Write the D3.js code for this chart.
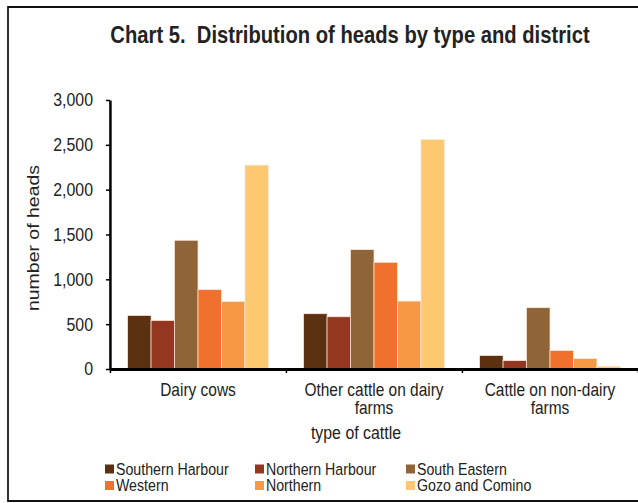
<!DOCTYPE html>
<html>
<head>
<meta charset="utf-8">
<script src="https://cdn.jsdelivr.net/npm/d3@7"></script>
<style>
  body { margin: 0; background: #fff; }
  text { font-family: "Liberation Sans", Arial, sans-serif; fill: #222; }
</style>
</head>
<body>
<svg id="chart"></svg>
<script>
const categories = ["Dairy cows", "Other cattle on dairy farms", "Cattle on non-dairy farms"]
const categoryLines = [["Dairy cows"], ["Other cattle on dairy", "farms"], ["Cattle on non-dairy", "farms"]]
const districts = ["Southern Harbour", "Northern Harbour", "South Eastern", "Western", "Northern", "Gozo and Comino"]
const colours = ["#5c3112", "#943720", "#8e6438", "#f0702d", "#f79845", "#fdc870"]

// heads per district, one array per category
const dairyCows = [598, 542, 1436, 885, 754, 2274]
const otherCattle = [617, 583, 1332, 1190, 758, 2561]
const nonDairy = [151, 95, 684, 207, 117, 31]
const yTicks = [0, 500, 1000, 1500, 2000, 2500, 3000]

const values = [dairyCows, otherCattle, nonDairy]

const width = 638, height = 503
const k = 0.86   // the picture is squeezed sideways
const X = v => v / k

const svg = d3.select("#chart")
    .attr("width", width)
    .attr("height", height)

const g = svg.append("g").attr("transform", `scale(${k},1)`)

// frame
g.append("rect")
    .attr("x", X(8)).attr("y", 7)
    .attr("width", X(660)).attr("height", 494)
    .attr("fill", "none")
    .attr("stroke", "#111")
    .attr("stroke-width", 2)

const x0 = d3.scaleBand()
    .domain(categories)
    .range([X(110), X(638)])
    .paddingInner(0)
    .paddingOuter(0)

const x1 = d3.scaleBand()
    .domain(districts)
    .range([0, x0.bandwidth()])
    .paddingOuter(0.75)
    .paddingInner(0)

const y = d3.scaleLinear()
    .domain([0, 3000])
    .range([369, 100])

const color = d3.scaleOrdinal().domain(districts).range(colours)

// bars
const groups = g.selectAll("g.cat")
    .data(categories)
    .enter()
    .append("g")
    .attr("class", "cat")
    .attr("transform", d => `translate(${x0(d)},0)`)

groups.selectAll("rect")
    .data((d, i) => values[i].map((v, j) => ({ district: districts[j], value: v })))
    .enter()
    .append("rect")
    .attr("x", d => x1(d.district))
    .attr("width", x1.bandwidth())
    .attr("y", d => y(d.value))
    .attr("height", d => y(0) - y(d.value))
    .attr("fill", d => color(d.district))
    .attr("stroke", "#fbe9dc")
    .attr("stroke-width", 0.8)

// y axis
const yAxis = g.append("g")
    .attr("transform", `translate(${X(110)},0)`)
    .call(d3.axisLeft(y).tickValues(yTicks).tickFormat(d3.format(",")).tickSize(X(4)).tickSizeOuter(0).tickPadding(X(13)))
yAxis.select(".domain").attr("stroke", "#000").attr("stroke-width", X(2.5))
yAxis.selectAll(".tick line").attr("stroke", "#000").attr("stroke-width", 1.5)
yAxis.selectAll(".tick text")
    .attr("font-size", 18.5)
    .attr("font-family", "Liberation Sans, Arial, sans-serif")
    .attr("fill", "#222")

// x axis
const bounds = categories.map(c => x0(c)).concat([x0.range()[1]])
const xAxis = g.append("g")
    .attr("transform", `translate(0,${y(0)})`)
    .call(d3.axisBottom(d3.scaleLinear().domain(x0.range()).range(x0.range()))
        .tickValues(bounds).tickSize(4).tickSizeOuter(0).tickFormat(""))
xAxis.select(".domain").attr("stroke", "#000").attr("stroke-width", 3)
xAxis.selectAll(".tick line").attr("stroke", "#000").attr("stroke-width", X(1.5))

// category labels
categories.forEach((c, i) => {
    const t = g.append("text")
        .attr("x", x0(c) + x0.bandwidth() / 2)
        .attr("y", 396)
        .attr("text-anchor", "middle")
        .attr("font-size", 18)
    categoryLines[i].forEach((line, j) => {
        t.append("tspan")
            .attr("x", x0(c) + x0.bandwidth() / 2)
            .attr("dy", j === 0 ? 0 : 18.5)
            .text(line)
    })
})

// axis titles
g.append("text")
    .attr("x", X(356)).attr("y", 439)
    .attr("text-anchor", "middle")
    .attr("font-size", 18.5)
    .text("type of cattle")

g.append("text")
    .attr("transform", `translate(${X(39)},238) rotate(-90)`)
    .attr("text-anchor", "middle")
    .attr("font-size", 19.5)
    .text("number of heads")

// title
g.append("text")
    .attr("x", X(350)).attr("y", 43)
    .attr("text-anchor", "middle")
    .attr("font-size", 23.5)
    .attr("font-weight", "bold")
    .style("white-space", "pre")
    .text("Chart 5.  Distribution of heads by type and district")

// legend
const legendX = [105, 255, 406]
const legendY = [464.5, 481]
const legend = g.selectAll("g.leg")
    .data(districts)
    .enter()
    .append("g")
    .attr("class", "leg")
    .attr("transform", (d, i) => `translate(${X(legendX[i % 3])},${legendY[Math.floor(i / 3)]})`)

legend.append("rect")
    .attr("width", X(9)).attr("height", 9)
    .attr("fill", d => color(d))

legend.append("text")
    .attr("x", X(11)).attr("y", 10)
    .attr("font-size", 16.5)
    .text(d => d)
</script>
</body>
</html>
